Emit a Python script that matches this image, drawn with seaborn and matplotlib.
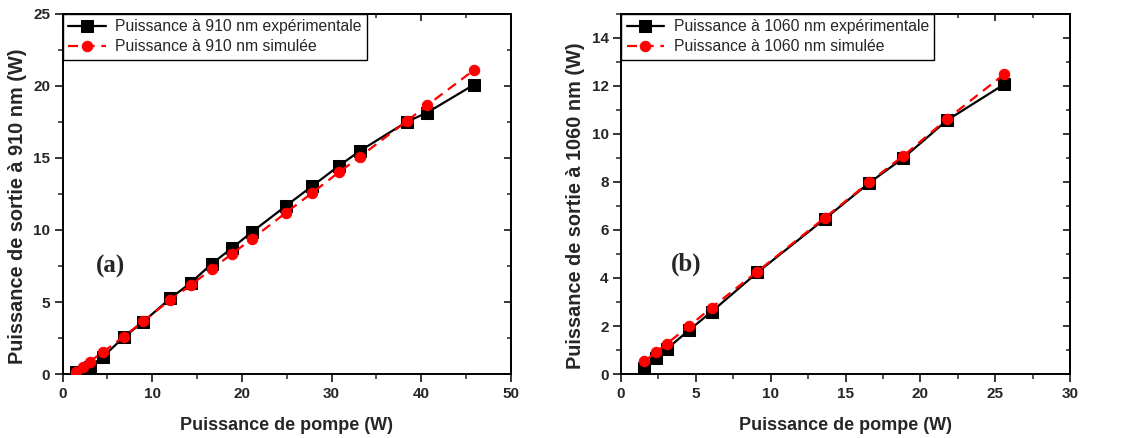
import numpy as np
import pandas as pd
import matplotlib
matplotlib.use("Agg")
import matplotlib.pyplot as plt
import seaborn as sns
from matplotlib.ticker import MultipleLocator

# ---------------- data ----------------
# Panel (a) : 910 nm
pump_a_exp = [1.5, 3.0, 4.5, 6.8, 9.0, 12.0, 14.3, 16.6, 18.85, 21.15, 24.9, 27.85, 30.85, 33.15, 38.4, 40.65, 45.9]
out_a_exp = [0.15, 0.5, 1.2, 2.55, 3.63, 5.25, 6.34, 7.64, 8.73, 9.88, 11.67, 13.06, 14.47, 15.49, 17.52, 18.15, 20.1]
pump_a_sim = [1.5, 2.3, 3.0, 4.55, 6.8, 9.0, 12.0, 14.3, 16.6, 18.85, 21.15, 24.9, 27.85, 30.85, 33.15, 38.4, 40.65, 45.9]
out_a_sim = [0.16, 0.51, 0.86, 1.55, 2.59, 3.68, 5.14, 6.18, 7.27, 8.33, 9.40, 11.2, 12.59, 14.03, 15.09, 17.57, 18.66, 21.12]

# Panel (b) : 1060 nm
pump_b_exp = [1.56, 2.32, 3.05, 4.57, 6.06, 9.11, 13.63, 16.6, 18.86, 21.8, 25.6]
out_b_exp = [0.25, 0.67, 1.04, 1.84, 2.6, 4.23, 6.47, 7.97, 9.0, 10.58, 12.07]
pump_b_sim = [1.56, 2.32, 3.05, 4.57, 6.06, 9.11, 13.63, 16.6, 18.86, 21.8, 25.6]
out_b_sim = [0.53, 0.90, 1.26, 2.01, 2.77, 4.27, 6.52, 8.0, 9.09, 10.63, 12.49]

labels_a = ["Puissance à 910 nm expérimentale", "Puissance à 910 nm simulée"]
labels_b = ["Puissance à 1060 nm expérimentale", "Puissance à 1060 nm simulée"]
xlabel = "Puissance de pompe (W)"
ylabel_a = "Puissance de sortie à 910 nm (W)"
ylabel_b = "Puissance de sortie à 1060 nm (W)"
tag_a, tag_b = "(a)", "(b)"

# ---------------- style ----------------
sns.set_theme(style="ticks")
plt.rcParams["font.family"] = ["Liberation Sans", "DejaVu Sans"]

fig = plt.figure(figsize=(11.31, 4.38), dpi=100)
ax_a = fig.add_axes([0.0554, 0.1461, 0.3964, 0.822])
ax_b = fig.add_axes([0.5491, 0.1461, 0.397, 0.822])


def draw(ax, px, py, sx, sy, labels, xlim, ylim, xmaj, ymaj, ylabel, tag, tagpos):
    df_e = pd.DataFrame({"x": px, "y": py})
    df_s = pd.DataFrame({"x": sx, "y": sy})
    sns.lineplot(data=df_e, x="x", y="y", ax=ax, color="black", marker="s",
                 markersize=9, markeredgecolor="black", linewidth=1.6,
                 estimator=None, sort=False, label=labels[0], zorder=3)
    sns.lineplot(data=df_s, x="x", y="y", ax=ax, color="#ff0000", marker="o",
                 markersize=7.5, markeredgecolor="#ff0000", linewidth=1.6,
                 linestyle=(0, (4.5, 3)), estimator=None, sort=False,
                 label=labels[1], zorder=4)
    ax.set_xlim(*xlim)
    ax.set_ylim(*ylim)
    ax.xaxis.set_major_locator(MultipleLocator(xmaj))
    ax.xaxis.set_minor_locator(MultipleLocator(xmaj / 2))
    ax.yaxis.set_major_locator(MultipleLocator(ymaj))
    ax.yaxis.set_minor_locator(MultipleLocator(ymaj / 2))
    ax.tick_params(which="major", direction="out", length=6, width=1.3,
                   labelsize=11, pad=3)
    ax.tick_params(which="minor", direction="out", length=3.5, width=1.1)
    for lab in ax.get_xticklabels() + ax.get_yticklabels():
        lab.set_fontweight("bold")
    for s in ax.spines.values():
        s.set_visible(True)
        s.set_linewidth(1.4)
        s.set_color("black")
    # inward ticks on top and right
    sec_x = ax.secondary_xaxis("top")
    sec_x.xaxis.set_major_locator(MultipleLocator(xmaj))
    sec_x.xaxis.set_minor_locator(MultipleLocator(xmaj / 2))
    sec_x.tick_params(which="major", direction="in", length=5, width=1.3, labeltop=False)
    sec_x.tick_params(which="minor", direction="in", length=3, width=1.1)
    sec_y = ax.secondary_yaxis("right")
    sec_y.yaxis.set_major_locator(MultipleLocator(ymaj))
    sec_y.yaxis.set_minor_locator(MultipleLocator(ymaj / 2))
    sec_y.tick_params(which="major", direction="in", length=5, width=1.3, labelright=False)
    sec_y.tick_params(which="minor", direction="in", length=3, width=1.1)

    ax.set_xlabel(xlabel, fontsize=13, fontweight="bold", labelpad=12)
    ax.set_ylabel(ylabel, fontsize=14.3, fontweight="bold")
    ax.yaxis.set_label_coords(-0.08, 0.467)
    leg = ax.legend(loc="upper left", borderaxespad=0, fontsize=11.3,
                    frameon=True, fancybox=False, framealpha=1,
                    edgecolor="black", handlelength=2.4, handletextpad=0.6,
                    borderpad=0.35, labelspacing=0.3)
    leg.get_frame().set_linewidth(1.0)
    ax.text(tagpos[0], tagpos[1], tag, transform=ax.transAxes,
            fontsize=18, fontweight="bold", ha="center", va="center",
            family=["Liberation Serif", "DejaVu Serif"])


draw(ax_a, pump_a_exp, out_a_exp, pump_a_sim, out_a_sim, labels_a,
     (0, 50), (0, 25), 10, 5, ylabel_a, tag_a, (0.106, 0.30))
draw(ax_b, pump_b_exp, out_b_exp, pump_b_sim, out_b_sim, labels_b,
     (0, 30), (0, 15), 5, 2, ylabel_b, tag_b, (0.145, 0.305))

fig.savefig("out.png", dpi=100)
